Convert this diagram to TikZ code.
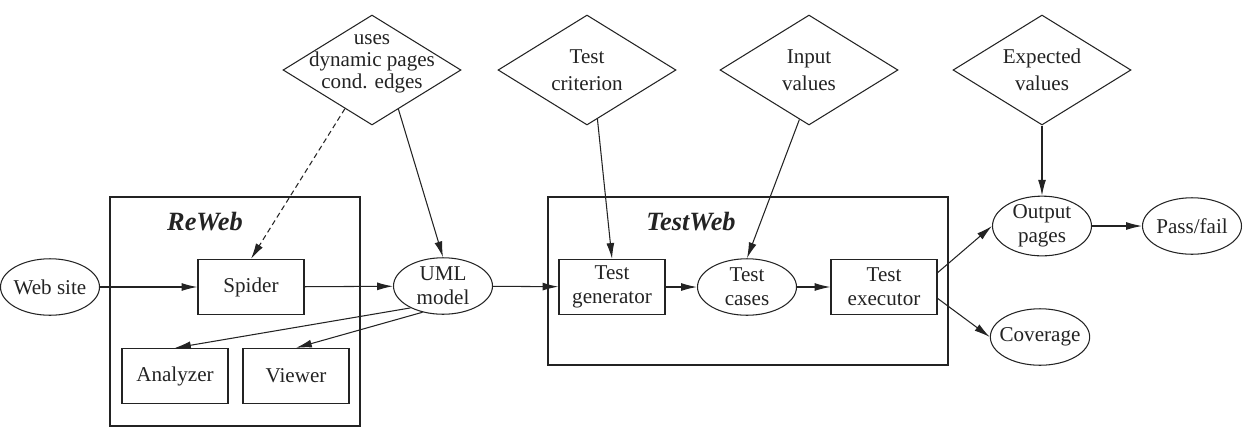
\documentclass[tikz,border=0pt]{standalone}
\usepackage{fontspec}
\setmainfont{Liberation Serif}
\usetikzlibrary{positioning, arrows.meta, shapes.geometric}
\definecolor{inkgray}{RGB}{35, 35, 35}
\tikzset{
  every node/.style={
    font=\fontsize{12}{13.5}\selectfont,
    text=inkgray
  },
  block/.style={
    draw=inkgray,
    rectangle,
    line width=0.7pt,
    minimum width=2.12cm,
    minimum height=1.1cm,
    inner sep=0pt,
    align=center
  },
  oval/.style={
    draw=inkgray,
    ellipse,
    line width=0.6pt,
    minimum width=1.98cm,
    minimum height=1.13cm,
    inner xsep=-3pt,
    inner ysep=0pt,
    align=center
  },
  decision/.style={
    draw=inkgray,
    diamond,
    aspect=1.6,
    line width=0.6pt,
    minimum width=3.56cm,
    minimum height=2.2cm,
    inner sep=0pt,
    align=center,
    font=\fontsize{12}{15.5}\selectfont
  },
  group/.style={
    draw=inkgray,
    line width=0.8pt
  },
  grouplabel/.style={
    font=\fontsize{15}{18}\selectfont\bfseries\itshape
  },
  flow/.style={
    -{Latex[length=9pt,width=4.5pt]},
    draw=inkgray,
    line width=0.6pt
  }
}
\begin{document}
\begin{tikzpicture}[x=0.02cm, y=-0.02cm]
  \useasboundingbox (0,0) rectangle (1250,437);

  % tool boxes
  \draw[group] (110,197) rectangle (360,426);
  \draw[group] (548,197) rectangle (948,365);
  \node[grouplabel] (reweb) at (205,222) {ReWeb};
  \node[grouplabel] (testweb) at (691,222) {TestWeb};

  % inputs on top
  \node[decision] (uses) at (372,70) {};
  \node[align=center, font=\fontsize{12}{12.5}\selectfont] (usestext) at (372,64) {uses\\dynamic pages\\cond. edges};
  \node[decision] (crit) at (587,70) {Test\\criterion};
  \node[decision] (input) at (809,70) {Input\\values};
  \node[decision] (expect) at (1042,70) {Expected\\values};

  % main flow
  \node[oval] (site) at (50,287) {Web site};
  \node[block] (spider) at (251,287) {Spider};
  \node[block] (analyzer) at (175,376) {Analyzer};
  \node[block] (viewer) at (296,376) {Viewer};
  \node[oval] (uml) at (443,286) {UML\\model};
  \node[block] (gen) at (612,287) {Test\\generator};
  \node[oval] (cases) at (747,287) {Test\\cases};
  \node[block] (exec) at (884,287) {Test\\executor};
  \node[oval] (outp) at (1042,226) {Output\\pages};
  \node[oval] (pass) at (1192,226) {Pass/fail};
  \node[oval] (cov) at (1040,337) {Coverage};

  \draw[flow] (site) -- (spider);
  \draw[flow] (spider) -- (uml);
  \draw[flow, dash pattern=on 3pt off 2pt] (uses.235) -- (spider.north);
  \draw[flow] (uses.304) -- (uml.north);
  \draw[flow] (uml.214) -- (analyzer.north);
  \draw[flow] (uml.232) -- (viewer.north);
  \draw[flow] (uml) -- (gen);
  \draw[flow] (crit.282) -- (gen.north);
  \draw[flow] (input.259) -- (cases.north);
  \draw[flow] (gen) -- (cases);
  \draw[flow] (cases) -- (exec);
  \draw[flow] (exec.15) -- (outp.west);
  \draw[flow] (exec.-12) -- (cov.west);
  \draw[flow] (expect) -- (outp);
  \draw[flow] (outp) -- (pass);
\end{tikzpicture}
\end{document}
